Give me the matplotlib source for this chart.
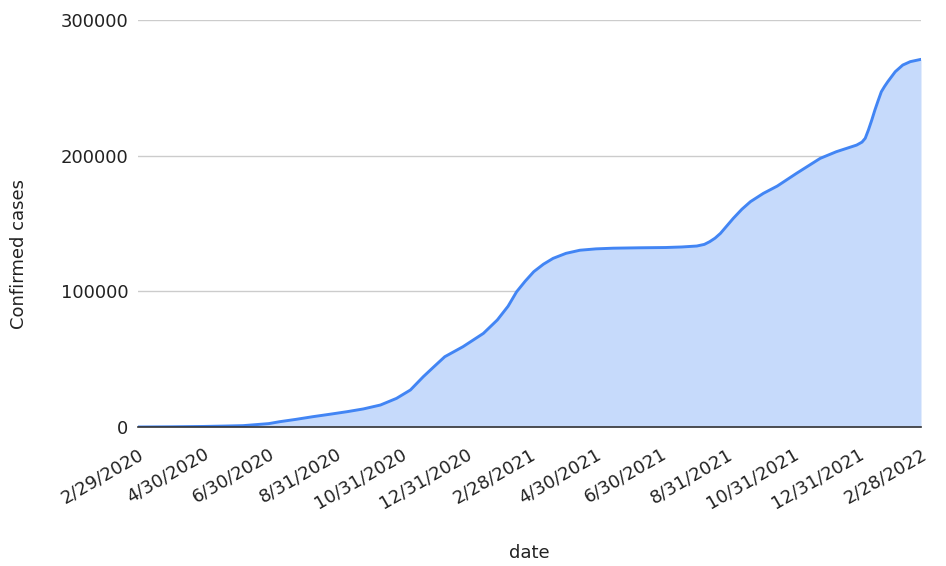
import matplotlib
matplotlib.use("Agg")
import matplotlib.pyplot as plt
import matplotlib.transforms as mtransforms
import numpy as np
import pandas as pd

plt.rcParams['font.family'] = ['DejaVu Sans']

# Cumulative confirmed cases
dates = [
    "2020-02-29", "2020-03-31", "2020-04-30", "2020-05-20", "2020-06-06",
    "2020-06-30", "2020-07-10", "2020-07-25", "2020-08-10", "2020-08-25",
    "2020-09-11", "2020-09-26", "2020-10-12", "2020-10-27", "2020-11-09",
    "2020-11-21", "2020-12-01", "2020-12-11", "2020-12-28", "2021-01-16",
    "2021-01-29", "2021-02-08", "2021-02-16", "2021-02-24", "2021-03-04",
    "2021-03-13", "2021-03-22", "2021-04-03", "2021-04-16", "2021-05-01",
    "2021-05-17", "2021-06-11", "2021-07-05", "2021-07-20", "2021-08-03",
    "2021-08-10", "2021-08-15", "2021-08-20", "2021-08-25", "2021-09-06",
    "2021-09-14", "2021-09-22", "2021-10-04", "2021-10-17", "2021-11-04",
    "2021-11-26", "2021-12-11", "2021-12-30", "2022-01-04", "2022-01-07",
    "2022-01-10", "2022-01-13", "2022-01-16", "2022-01-19", "2022-01-22",
    "2022-01-25", "2022-01-28", "2022-02-04", "2022-02-11", "2022-02-18",
    "2022-02-28",
]
cases = [
    0, 150, 400, 700, 1000,
    2500, 3900, 5600, 7600, 9300,
    11300, 13300, 16200, 21100, 27300,
    37100, 44500, 51800, 59200, 69000,
    78900, 89000, 99700, 107500, 114500,
    120000, 124300, 128000, 130300, 131300,
    131800, 132100, 132300, 132700, 133400,
    134600, 136600, 139200, 142700, 153800,
    160500, 166100, 172200, 177600, 187000,
    198000, 202900, 207800, 210000, 212800,
    219000, 226000, 233600, 240500, 247100,
    251000, 254500, 261900, 266800, 269300,
    271000,
]
y_ticks = [0, 100000, 200000, 300000]
x_tick_dates = [
    "2020-02-29", "2020-04-30", "2020-06-30", "2020-08-31", "2020-10-31",
    "2020-12-31", "2021-02-28", "2021-04-30", "2021-06-30", "2021-08-31",
    "2021-10-31", "2021-12-31", "2022-02-28",
]
x_tick_labels = [
    "2/29/2020", "4/30/2020", "6/30/2020", "8/31/2020", "10/31/2020",
    "12/31/2020", "2/28/2021", "4/30/2021", "6/30/2021", "8/31/2021",
    "10/31/2021", "12/31/2021", "2/28/2022",
]

x = pd.to_datetime(dates)
y = np.array(cases)

W, H = 946, 566
fig = plt.figure(figsize=(W / 100, H / 100), dpi=100)
ax = fig.add_axes([138 / W, 1 - 427 / H, (921 - 138) / W, (427 - 20) / H])

line_color = "#4285F4"
fill_color = "#C6DAFB"
text_color = "#222222"
fs = 13

ax.fill_between(x, y, 0, color=fill_color, linewidth=0, zorder=2)
ax.plot(x, y, color=line_color, linewidth=2.1, zorder=3,
        solid_joinstyle="round", solid_capstyle="round")

ax.set_xlim(pd.Timestamp(x_tick_dates[0]), pd.Timestamp(x_tick_dates[-1]))
ax.set_ylim(0, 300000)

ax.set_yticks(y_ticks)
ax.set_yticklabels([str(v) for v in y_ticks])
ax.grid(axis="y", color="#cccccc", linewidth=1.0, zorder=1)
ax.set_axisbelow(True)

ax.set_xticks(pd.to_datetime(x_tick_dates))
ax.set_xticklabels(x_tick_labels, rotation=30, ha="right",
                   rotation_mode="anchor")
offset = mtransforms.ScaledTranslation(5 / 100, 0, fig.dpi_scale_trans)
for lbl in ax.get_xticklabels():
    lbl.set_transform(lbl.get_transform() + offset)

ax.tick_params(axis="both", length=0, labelsize=fs, colors=text_color)
ax.tick_params(axis="y", pad=7)
ax.tick_params(axis="x", pad=13)

for side in ("top", "right", "left"):
    ax.spines[side].set_visible(False)
ax.spines["bottom"].set_color("#333333")
ax.spines["bottom"].set_linewidth(1.2)
ax.spines["bottom"].set_zorder(4)

fig.text(19.5 / W, 1 - 254 / H, "Confirmed cases", fontsize=fs, color=text_color,
         rotation=90, ha="center", va="center")
fig.text(529 / W, 1 - 553 / H, "date", fontsize=fs, color=text_color,
         ha="center", va="center")

fig.savefig("out.png", dpi=100, facecolor="white")
